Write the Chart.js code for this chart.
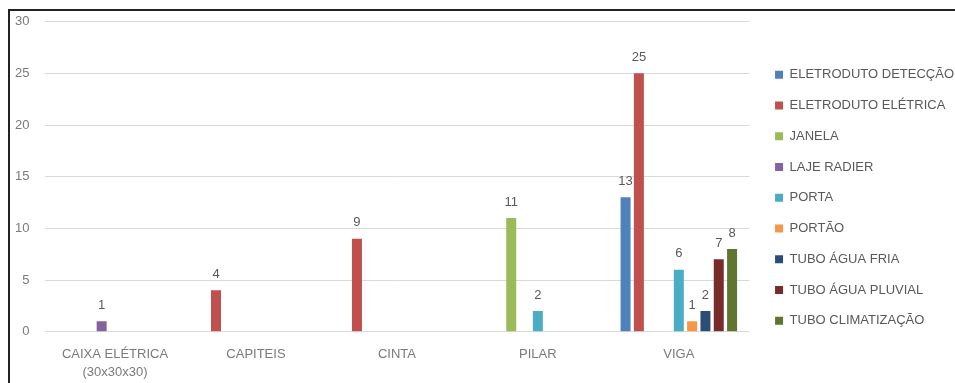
<!DOCTYPE html>
<html>
<head>
<meta charset="utf-8">
<script src="https://cdn.jsdelivr.net/npm/chart.js@4.4.0/dist/chart.umd.min.js"></script>
<style>
  html, body { margin: 0; padding: 0; background: #fff; overflow: hidden; }
  #frame {
    position: absolute; left: 8px; top: 9px;
    width: 960px; height: 380px;
    border-top: 2px solid #222; border-left: 2px solid #222;
  }
  canvas { display: block; }
</style>
</head>
<body>
<div id="frame"><canvas id="chart" width="954" height="372"></canvas></div>
<script>
// categories and series
const categories = [['CAIXA ELÉTRICA', '(30x30x30)'], 'CAPITEIS', 'CINTA', 'PILAR', 'VIGA'];

const eletrodutoDeteccao = [null, null, null, null, 13];
const eletrodutoEletrica = [null, 4, 9, null, 25];
const janela             = [null, null, null, 11, null];
const lajeRadier         = [1, null, null, null, null];
const porta              = [null, null, null, 2, 6];
const portao             = [null, null, null, null, 1];
const tuboAguaFria       = [null, null, null, null, 2];
const tuboAguaPluvial    = [null, null, null, null, 7];
const tuboClimatizacao   = [null, null, null, null, 8];

const yMin = 0, yMax = 30, yStep = 5;

const FONT = '"Liberation Sans", Arial, sans-serif';

const series = [
  ['ELETRODUTO DETECÇÃO', eletrodutoDeteccao, '#4F81BD'],
  ['ELETRODUTO ELÉTRICA', eletrodutoEletrica, '#C0504D'],
  ['JANELA', janela, '#9BBB59'],
  ['LAJE RADIER', lajeRadier, '#8064A2'],
  ['PORTA', porta, '#4BACC6'],
  ['PORTÃO', portao, '#F79646'],
  ['TUBO ÁGUA FRIA', tuboAguaFria, '#2C4D75'],
  ['TUBO ÁGUA PLUVIAL', tuboAguaPluvial, '#772C2A'],
  ['TUBO CLIMATIZAÇÃO', tuboClimatizacao, '#5F7530']
];

// value above every bar
const valueLabels = {
  id: 'valueLabels',
  afterDatasetsDraw(chart) {
    const ctx = chart.ctx;
    ctx.save();
    ctx.font = '13px ' + FONT;
    ctx.fillStyle = '#595959';
    ctx.textAlign = 'center';
    ctx.textBaseline = 'middle';
    chart.data.datasets.forEach((ds, i) => {
      chart.getDatasetMeta(i).data.forEach((bar, j) => {
        const v = ds.data[j];
        if (v == null) return;
        ctx.fillText(v, bar.x, bar.y - 16);
      });
    });
    ctx.restore();
  }
};

// nudge the legend column up a little
const legendNudge = {
  id: 'legendNudge',
  beforeDraw(chart) {
    if (chart.legend) {
      chart.legend.top -= 4.5;
      chart.legend.bottom -= 4.5;
    }
  }
};

new Chart(document.getElementById('chart'), {
  type: 'bar',
  data: {
    labels: categories,
    datasets: series.map(([label, data, color]) => ({
      label: label,
      data: data,
      backgroundColor: color,
      borderWidth: 0,
      categoryPercentage: 0.85,
      barPercentage: 0.75
    }))
  },
  options: {
    responsive: false,
    animation: false,
    events: [],
    layout: { padding: { top: 10.7, left: 0, right: 0, bottom: 0 } },
    plugins: {
      tooltip: { enabled: false },
      legend: {
        position: 'right',
        maxWidth: 400,
        labels: {
          boxWidth: 8,
          boxHeight: 8,
          padding: 17.75,
          color: '#595959',
          font: { family: FONT, size: 13 }
        }
      }
    },
    scales: {
      x: {
        grid: { display: false },
        border: { display: false },
        ticks: {
          color: '#7a7a7a',
          maxRotation: 0,
          autoSkip: false,
          padding: 6,
          font: { family: FONT, size: 13, lineHeight: 1.35 }
        },
        afterFit(s) { s.height = 51.3; s.paddingLeft = 0; s.paddingRight = 0; }
      },
      y: {
        min: yMin,
        max: yMax,
        grid: { color: '#d9d9d9', lineWidth: 1, drawTicks: false },
        border: { display: false },
        ticks: {
          stepSize: yStep,
          color: '#7a7a7a',
          padding: 15,
          font: { family: FONT, size: 13 }
        },
        afterFit(s) { s.width = 34.5; s.paddingTop = 0; s.paddingBottom = 0; }
      },
      yRight: {
        position: 'right',
        grid: { display: false },
        border: { display: false },
        ticks: { display: false },
        afterFit(s) { s.width = 8; s.paddingTop = 0; s.paddingBottom = 0; }
      }
    }
  },
  plugins: [valueLabels, legendNudge]
});
</script>
</body>
</html>
